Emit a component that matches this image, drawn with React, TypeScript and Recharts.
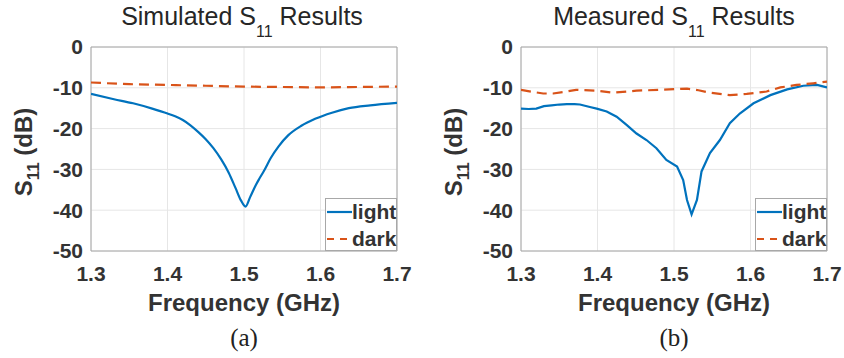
import React from 'react';
import { LineChart, Line, XAxis, YAxis, CartesianGrid, ReferenceArea, Legend } from 'recharts';

// ---- axis ticks ----
const FREQ_TICKS = [1.3, 1.4, 1.5, 1.6, 1.7];
const DB_TICKS = [-50, -40, -30, -20, -10, 0];

// ---- (a) simulated ----
const simLightFreq = [1.3, 1.33, 1.355, 1.38, 1.4, 1.41, 1.42, 1.43, 1.44, 1.45, 1.46, 1.47, 1.48, 1.489, 1.496, 1.502, 1.508, 1.515, 1.52, 1.526, 1.535, 1.545, 1.558, 1.575, 1.593, 1.615, 1.637, 1.665, 1.7];
const simLightS11 = [-11.5, -12.8, -13.8, -15.1, -16.3, -17.0, -17.9, -19.2, -20.8, -22.6, -24.8, -27.5, -30.8, -34.6, -37.6, -39.1, -36.8, -34.0, -32.3, -30.4, -27.2, -24.4, -21.6, -19.3, -17.6, -16.1, -15.0, -14.3, -13.7];
const simDarkFreq = [1.3, 1.35, 1.4, 1.45, 1.5, 1.55, 1.6, 1.65, 1.7];
const simDarkS11 = [-8.7, -9.1, -9.3, -9.5, -9.7, -9.8, -9.9, -9.8, -9.7];

// ---- (b) measured ----
const measLightFreq = [1.3, 1.31, 1.32, 1.33, 1.34, 1.35, 1.36, 1.37, 1.377, 1.39, 1.399, 1.412, 1.425, 1.438, 1.451, 1.464, 1.477, 1.49, 1.504, 1.512, 1.517, 1.523, 1.53, 1.536, 1.547, 1.56, 1.573, 1.586, 1.604, 1.626, 1.648, 1.669, 1.687, 1.7];
const measLightS11 = [-15.1, -15.2, -15.1, -14.5, -14.3, -14.1, -14.0, -14.0, -14.1, -14.7, -15.1, -15.8, -17.1, -19.1, -21.2, -22.8, -24.8, -27.7, -29.3, -32.6, -37.5, -41.0, -37.5, -30.5, -26.0, -22.8, -18.7, -16.3, -13.8, -11.8, -10.4, -9.5, -9.3, -9.9];
const measDarkFreq = [1.3, 1.315, 1.329, 1.342, 1.357, 1.372, 1.399, 1.421, 1.451, 1.482, 1.517, 1.532, 1.547, 1.573, 1.595, 1.621, 1.639, 1.66, 1.682, 1.7];
const measDarkS11 = [-10.5, -11.0, -11.4, -11.4, -11.0, -10.5, -10.7, -11.2, -10.7, -10.5, -10.2, -10.6, -11.2, -11.8, -11.5, -10.9, -9.9, -9.3, -8.9, -8.5];

const SERIES_NAMES = ['light', 'dark'];

const BLUE = '#0072BD';
const ORANGE = '#D95319';
const TEXT = '#333333';
const SANS = '"Liberation Sans", Arial, Helvetica, sans-serif';

const zip = (fs: number[], vs: number[]) => fs.map((f, i) => ({ f, v: vs[i] }));

const renderLegend = () => (
  <div
    style={{
      position: 'relative',
      boxSizing: 'border-box',
      width: 72,
      height: 53,
      border: '1px solid #a8a8a8',
      background: '#fff',
      fontFamily: SANS,
      fontWeight: 700,
      fontSize: 21,
      color: TEXT,
    }}
  >
    <div style={{ position: 'absolute', left: 1, top: 1, height: 24, display: 'flex', alignItems: 'center' }}>
      <svg width={25} height={6} style={{ display: 'block' }}>
        <line x1={0} y1={3} x2={25} y2={3} stroke={BLUE} strokeWidth={2.2} />
      </svg>
      <span style={{ lineHeight: '24px' }}>{SERIES_NAMES[0]}</span>
    </div>
    <div style={{ position: 'absolute', left: 1, top: 28, height: 24, display: 'flex', alignItems: 'center' }}>
      <svg width={25} height={6} style={{ display: 'block' }}>
        <line x1={0} y1={3} x2={25} y2={3} stroke={ORANGE} strokeWidth={2.2} strokeDasharray="7 6" />
      </svg>
      <span style={{ lineHeight: '24px' }}>{SERIES_NAMES[1]}</span>
    </div>
  </div>
);

type PanelProps = {
  width: number;
  marginLeft: number;
  marginRight: number;
  light: { f: number; v: number }[];
  dark: { f: number; v: number }[];
  curve: 'monotone' | 'linear';
  legendLeft: number;
};

function Panel({ width, marginLeft, marginRight, light, dark, curve, legendLeft }: PanelProps) {
  const tickStyle = { fill: TEXT, fontSize: 21, fontWeight: 700, fontFamily: SANS };
  return (
    <LineChart width={width} height={358} margin={{ top: 47, right: marginRight, bottom: 77, left: marginLeft }}>
      <CartesianGrid stroke="#e6e6e6" />
      <XAxis
        type="number"
        dataKey="f"
        domain={[1.3, 1.7]}
        ticks={FREQ_TICKS}
        tickFormatter={(v: number) => v.toFixed(1)}
        axisLine={false}
        tickLine={false}
        tickSize={0}
        tickMargin={15}
        height={30}
        tick={tickStyle}
        allowDataOverflow
        interval={0}
      />
      <YAxis
        type="number"
        domain={[-50, 0]}
        ticks={DB_TICKS}
        axisLine={false}
        tickLine={false}
        tickSize={0}
        tickMargin={8}
        width={60}
        tick={tickStyle}
        allowDataOverflow
        interval={0}
      />
      <ReferenceArea x1={1.3} x2={1.7} y1={-50} y2={0} fill="none" stroke="#a6a6a6" strokeWidth={1} />
      <Line
        data={light}
        dataKey="v"
        name={SERIES_NAMES[0]}
        type={curve}
        stroke={BLUE}
        strokeWidth={2.2}
        dot={false}
        isAnimationActive={false}
      />
      <Line
        data={dark}
        dataKey="v"
        name={SERIES_NAMES[1]}
        type={curve}
        stroke={ORANGE}
        strokeWidth={2.2}
        strokeDasharray="10 6"
        dot={false}
        isAnimationActive={false}
      />
      <Legend
        layout="vertical"
        align="center"
        verticalAlign="middle"
        content={renderLegend}
        wrapperStyle={{ left: legendLeft, top: 198, width: 72, height: 53 }}
      />
    </LineChart>
  );
}

function YLabel({ cx, cy }: { cx: number; cy: number }) {
  return (
    <text
      x={cx}
      y={cy}
      transform={`rotate(-90 ${cx} ${cy})`}
      textAnchor="middle"
      fontFamily={SANS}
      fontWeight={700}
      fontSize={24}
      fill={TEXT}
    >
      <tspan>S</tspan>
      <tspan fontSize={17} dy={7}>11</tspan>
      <tspan dy={-7}> (dB)</tspan>
    </text>
  );
}

function Title({ cx, label }: { cx: number; label: string }) {
  return (
    <text x={cx} y={25} textAnchor="middle" fontFamily={SANS} fontSize={25} fill="#262626">
      <tspan>{label} S</tspan>
      <tspan fontSize={16} dy={12}>11</tspan>
      <tspan dy={-12}> Results</tspan>
    </text>
  );
}

export default function App() {
  return (
    <div style={{ position: 'absolute', left: 0, top: 0, width: 844, height: 358, background: '#fff' }}>
      <div style={{ position: 'absolute', left: 0, top: 0 }}>
        <Panel
          width={420}
          marginLeft={31}
          marginRight={23}
          light={zip(simLightFreq, simLightS11)}
          dark={zip(simDarkFreq, simDarkS11)}
          curve="monotone"
          legendLeft={325}
        />
      </div>
      <div style={{ position: 'absolute', left: 420, top: 0 }}>
        <Panel
          width={424}
          marginLeft={41}
          marginRight={17}
          light={zip(measLightFreq, measLightS11)}
          dark={zip(measDarkFreq, measDarkS11)}
          curve="linear"
          legendLeft={335}
        />
      </div>
      <svg
        width={844}
        height={358}
        style={{ position: 'absolute', left: 0, top: 0, pointerEvents: 'none' }}
      >
        <Title cx={242} label="Simulated" />
        <Title cx={674} label="Measured" />
        <YLabel cx={32} cy={152} />
        <YLabel cx={462} cy={152} />
        <text x={244} y={311} textAnchor="middle" fontFamily={SANS} fontWeight={700} fontSize={24} fill={TEXT}>
          Frequency (GHz)
        </text>
        <text x={674} y={311} textAnchor="middle" fontFamily={SANS} fontWeight={700} fontSize={24} fill={TEXT}>
          Frequency (GHz)
        </text>
        <text x={244} y={346} textAnchor="middle" fontFamily='"Liberation Serif", "Times New Roman", serif' fontSize={25} fill="#222">
          (a)
        </text>
        <text x={674} y={346} textAnchor="middle" fontFamily='"Liberation Serif", "Times New Roman", serif' fontSize={25} fill="#222">
          (b)
        </text>
      </svg>
    </div>
  );
}
